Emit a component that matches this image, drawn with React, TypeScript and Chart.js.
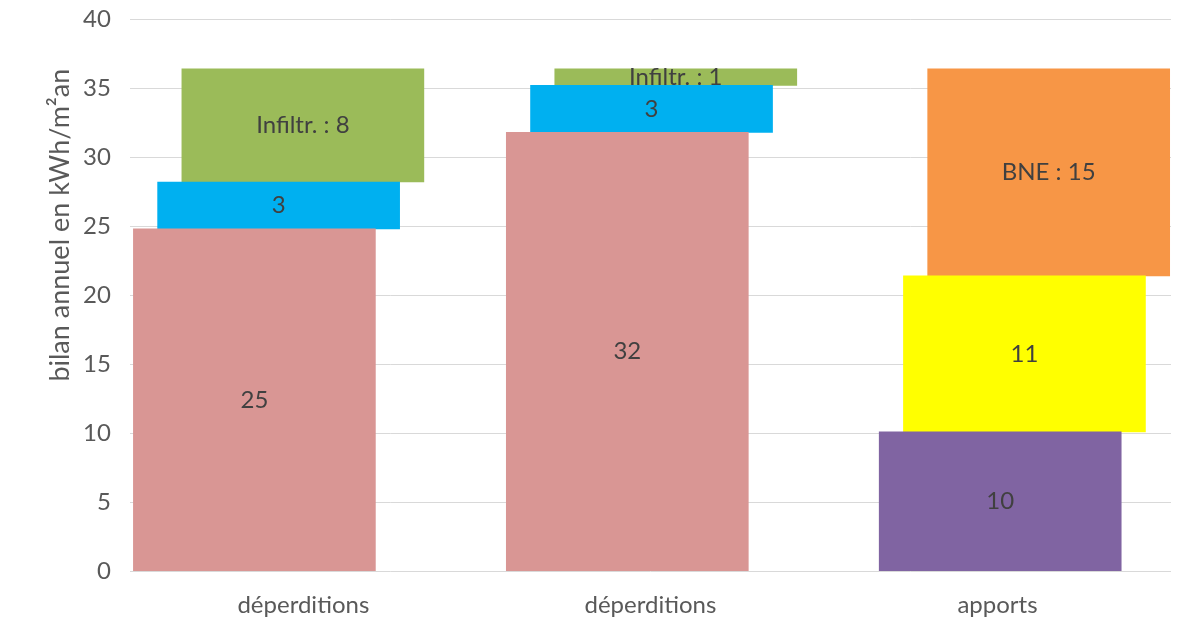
import React, { useEffect, useRef } from 'react';
import { Chart, registerables } from 'chart.js';

Chart.register(...registerables);

// ---- data ----
const categories = ['déperditions', 'déperditions', 'apports'];
const bottomValues = [24.8, 31.8, 10.1];
const middleValues = [3.4, 3.4, 11.3];
const topValues = [8.2, 1.2, 15.0];
const bottomColors = ['#D99694', '#D99694', '#8064A2'];
const middleColors = ['#00B0F0', '#00B0F0', '#FFFF00'];
const topColors = ['#9BBB59', '#9BBB59', '#F79646'];
const topLabelPrefixes = ['Infiltr. : ', 'Infiltr. : ', 'BNE : '];
const yMin = 0;
const yMax = 40;
const yStep = 5;
const yTitle = 'bilan annuel en kWh/m²an';

const FONT = 'Lato';

// floating segments built from the cumulative series
const series = [bottomValues, middleValues, topValues];
const starts = series.map((_, k) =>
  categories.map((__, i) => series.slice(0, k).reduce((s, arr) => s + arr[i], 0))
);

const segmentLabels = {
  id: 'segmentLabels',
  afterDatasetsDraw(chart: any) {
    const ctx = chart.ctx;
    ctx.save();
    ctx.font = `24px ${FONT}`;
    ctx.fillStyle = '#404040';
    ctx.textAlign = 'center';
    ctx.textBaseline = 'middle';
    chart.data.datasets.forEach((ds: any, di: number) => {
      const meta = chart.getDatasetMeta(di);
      meta.data.forEach((bar: any, i: number) => {
        const { x, y, base } = bar.getProps(['x', 'y', 'base'], true);
        ctx.fillText(ds.segmentText[i], x, (y + base) / 2);
      });
    });
    ctx.restore();
  },
};

// y-axis title, placed a little above the axis centre as in the original
const axisTitle = {
  id: 'axisTitle',
  afterDraw(chart: any) {
    const ctx = chart.ctx;
    const area = chart.chartArea;
    ctx.save();
    ctx.translate(60, area.top + 206);
    ctx.rotate(-Math.PI / 2);
    ctx.font = `27px ${FONT}`;
    ctx.fillStyle = '#595959';
    ctx.textAlign = 'center';
    ctx.textBaseline = 'middle';
    ctx.fillText(yTitle, 0, 0);
    ctx.restore();
  },
};

export default function App() {
  const canvasRef = useRef<HTMLCanvasElement | null>(null);

  useEffect(() => {
    if (!canvasRef.current) return;
    const axisIds = ['xBottom', 'xMiddle', 'xTop'];
    const colorSets = [bottomColors, middleColors, topColors];
    const prefixSets = [categories.map(() => ''), categories.map(() => ''), topLabelPrefixes];

    const datasets = series.map((vals, k) => ({
      type: 'bar' as const,
      label: `s${k}`,
      xAxisID: axisIds[k],
      yAxisID: 'y',
      grouped: false,
      data: categories.map((_, i) => ({ x: i, y: [starts[k][i], starts[k][i] + vals[i]] })),
      backgroundColor: colorSets[k],
      borderWidth: 0,
      barThickness: 242,
      segmentText: vals.map((v, i) => prefixSets[k][i] + String(Math.round(v))),
    }));

    const baseMin = -0.334;
    const baseMax = 2.458;
    const shift = 0.065;
    const hiddenAxis = (k: number) => ({
      type: 'linear' as const,
      display: false,
      offset: false,
      grid: { offset: false },
      min: baseMin - shift * k,
      max: baseMax - shift * k,
    });

    const chart = new Chart(canvasRef.current, {
      type: 'bar',
      data: { labels: categories, datasets: datasets as any },
      plugins: [segmentLabels, axisTitle],
      options: {
        animation: false,
        responsive: true,
        maintainAspectRatio: false,
        layout: { padding: { top: 0, left: 64, right: 7, bottom: 1 } },
        plugins: {
          legend: { display: false },
          tooltip: { enabled: false },
        },
        scales: {
          x: {
            type: 'category',
            position: 'bottom',
            offset: true,
            grid: { display: false, drawTicks: false },
            border: { display: false },
            ticks: { color: '#595959', font: { family: FONT, size: 24 }, padding: 20 },
          },
          xBottom: hiddenAxis(0),
          xMiddle: hiddenAxis(1),
          xTop: hiddenAxis(2),
          y: {
            min: yMin,
            max: yMax,
            stacked: false,
            ticks: {
              stepSize: yStep,
              color: '#595959',
              font: { family: FONT, size: 24, lineHeight: 0.01 },
              padding: 19,
            },
            grid: { color: '#D9D9D9', lineWidth: 1, drawTicks: false },
            border: { display: false },
            title: { display: false },
          },
        } as any,
      },
    });
    return () => chart.destroy();
  }, []);

  return (
    <div style={{ position: 'fixed', left: 0, top: 0, width: 1178, height: 641, background: '#fff' }}>
      <canvas ref={canvasRef} />
    </div>
  );
}
